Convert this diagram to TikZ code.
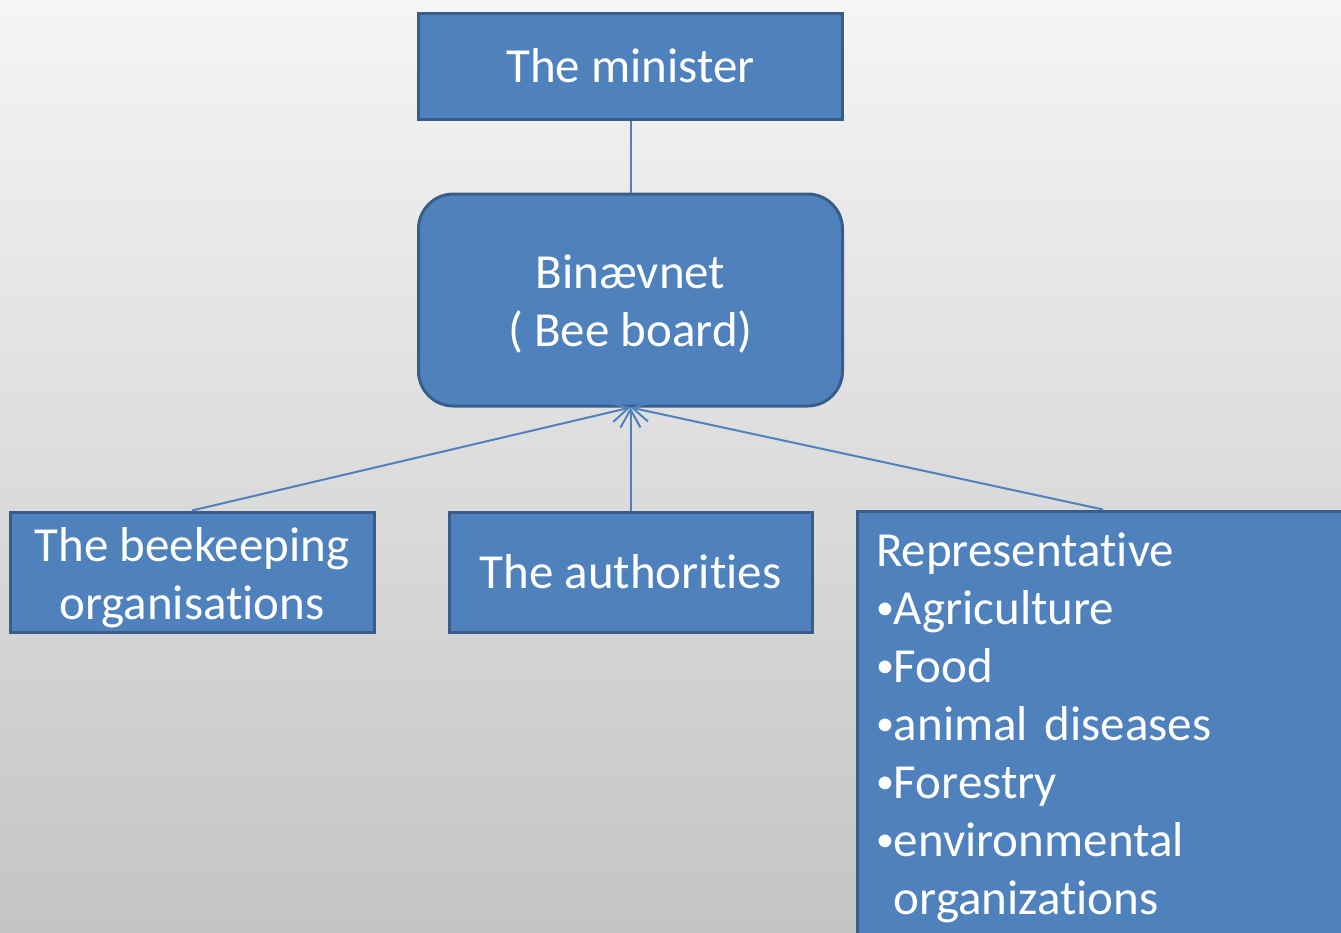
\documentclass[tikz,border=0pt]{standalone}
\usepackage{fontspec}
\setmainfont[Ligatures=NoCommon]{Carlito}
\usetikzlibrary{arrows.meta}
\definecolor{boxFill}{HTML}{4F81BD}
\definecolor{boxLine}{HTML}{385D8A}
\definecolor{bgTop}{HTML}{F5F5F5}
\definecolor{bgBottom}{HTML}{C4C4C4}
\newcommand{\bul}{{\fontsize{36}{58}\selectfont\raisebox{5pt}{•}}}
\tikzstyle{box}=[draw=boxLine, fill=boxFill, line width=3pt, text=white, font=\fontsize{49}{58}\selectfont, align=center, inner sep=0pt]
\tikzstyle{edge}=[draw=boxFill, line width=2pt]
\tikzstyle{arrowEdge}=[edge, -{Straight Barb[length=18pt, width=20pt]}]

\begin{document}
\begin{tikzpicture}[x=1pt, y=-1pt]
        \useasboundingbox (0,0) rectangle (1341,932);
        \shade[top color=bgTop, bottom color=bgBottom] (0,0) rectangle (1341,932);
        \node(minister) [box, minimum width=424pt, minimum height=106pt] at (630.5, 66){The minister};
        \node(board) [box, rounded corners=35pt, minimum width=424pt, minimum height=212pt] at (630.5, 300){\rule{0pt}{41pt}Binævnet\\( Bee board)};
        \node(beekeepers) [box, minimum width=364pt, minimum height=120pt] at (192, 572){\rule{0pt}{45pt}The beekeeping\\organisations};
        \node(authorities) [box, minimum width=363pt, minimum height=120pt] at (630.5, 572){The authorities};
        \node(representatives) [box, anchor=north west, align=left, text width=454pt, inner xsep=19pt, inner ysep=22pt] at (855.5, 509.5){Representative\\\bul Agriculture\\\bul Food\\\bul animal diseases\\\bul Forestry\\\bul environmental\\\phantom{\bul}organizations};
        %\draw (representatives.north) circle (2pt);
        \draw[edge] (minister) to (board);
        \draw[arrowEdge] (beekeepers.north) to (board.south);
        \draw[arrowEdge] (authorities.north) to (board.south);
        \draw[arrowEdge] (representatives.north) to (board.south);
     \end{tikzpicture}
\end{document}
